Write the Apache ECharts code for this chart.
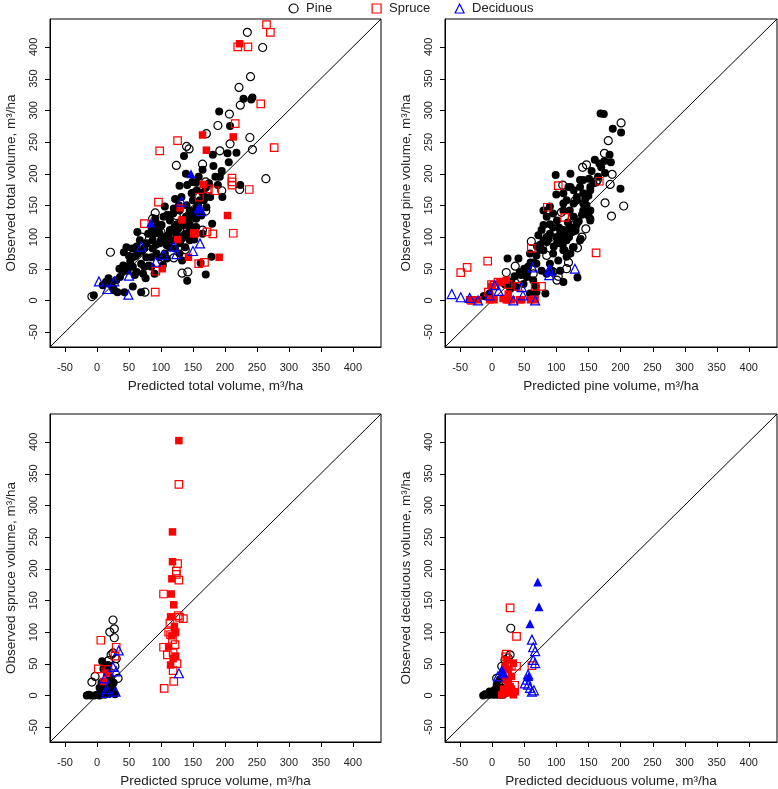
<!DOCTYPE html>
<html><head><meta charset="utf-8">
<script src="https://cdn.jsdelivr.net/npm/echarts@6/dist/echarts.min.js"></script>
<style>html,body{margin:0;padding:0;background:#fff}#c{width:778px;height:789px}</style>
</head><body><div id="c"></div>
<script>
// ---------- tick labels ----------
const tickValues = [-50,0,50,100,150,200,250,300,350,400];
const axisMin = -73.5, axisMax = 444;
const xTitles = ['Predicted total volume, m³/ha','Predicted pine volume, m³/ha','Predicted spruce volume, m³/ha','Predicted deciduous volume, m³/ha'];
const yTitles = ['Observed total volume, m³/ha','Observed pine volume, m³/ha','Observed spruce volume, m³/ha','Observed deciduous volume, m³/ha'];
const legendNames = ['Pine','Spruce','Deciduous'];

// ---------- Panel 1: total volume ----------
const p1PineOpen = [[235,423],[259,399],[240,353],[222,336],[224,308],[207,294],[189,276],[171,263],[208,247],[239,257],[243,238],[192,236],[140,243],[144,239],[124,213],[165,215],[264,192],[223,175],[195,173],[170,187],[91,138],[21,76],[70,100],[165,111],[138,80],[133,43],[142,45],[75,13],[-8,6],[120,67],[170,141],[124,134],[129,112],[87,129],[157,135],[118,100],[100,108]];
const p1PineFilled = [[229,318],[243,320],[241,317],[191,298],[208,275],[204,232],[218,233],[206,218],[181,230],[182,212],[195,204],[192,195],[224,182],[196,163],[180,121],[170,178],[189,182],[136,228],[139,200],[159,195],[165,206],[155,186],[149,187],[129,181],[141,182],[122,160],[106,148],[91,129],[104,132],[63,108],[46,84],[42,76],[55,82],[56,68],[32,13],[43,13],[56,22],[14,29],[-5,8],[69,13],[76,35],[74,53],[90,42],[103,56],[141,31],[170,41],[179,69],[162,59],[133,63],[152,96],[165,105],[132,97],[114,111],[98,105],[87,95],[74,83],[45,53],[41,55],[52,62],[69,58],[85,53],[93,74],[109,87],[119,95],[121,116],[136,124],[148,137],[155,145],[161,158],[167,158],[150,158],[145,142],[139,132],[129,142],[106,74],[114,84],[77,68],[85,68],[98,68],[109,66],[30,32],[20,26],[9,24],[27,16],[36,37],[56,53],[64,74],[62,45],[81,55],[72,42],[155,116],[171,147],[163,134],[169,163],[156,174],[148,169],[132,163],[119,137],[114,126],[101,119],[93,111],[85,116],[80,105],[67,95],[87,82],[98,90],[124,105],[139,105],[145,111],[138,84],[129,74],[122,82],[145,95],[155,129],[177,163],[97,114],[59,40],[48,47],[110,95],[125,120],[140,150],[150,170],[160,140],[100,95],[112,103],[118,110],[127,113],[135,118],[142,125],[150,132],[158,150],[165,170],[175,185],[185,195],[128,150],[120,145],[110,135],[95,120],[88,104],[78,90],[70,78],[60,70],[50,70],[40,45],[35,50],[25,20],[18,35],[62,85],[92,88],[105,100],[130,90],[135,100],[145,120],[150,100]];
const p1SpruceOpen = [[265,435],[271,423],[220,400],[236,400],[256,310],[216,279],[277,241],[126,252],[98,236],[211,193],[211,187],[211,182],[238,175],[184,173],[174,176],[160,163],[96,155],[74,121],[172,108],[181,105],[213,106],[152,106],[159,58],[168,60],[91,13],[92,46]];
const p1SpruceFilled = [[223,405],[165,261],[213,258],[171,237],[166,183],[130,146],[204,134],[153,105],[126,96],[191,68],[102,50],[143,68],[133,127]];
const p1DecidOpen = [[3,30],[16,18],[49,9],[50,39],[69,85],[92,61],[104,72],[124,73],[132,156],[150,78],[161,90],[163,141],[27,30],[120,85],[160,145]];
const p1DecidFilled = [[147,200],[84,122],[158,145]];

// ---------- Panel 2: pine volume ----------
const p2PineOpen = [[201,280],[181,252],[175,232],[141,210],[147,214],[187,199],[184,183],[162,187],[176,154],[205,149],[186,133],[146,113],[133,83],[116,50],[119,60],[103,38],[101,32],[36,54],[22,44],[61,93],[110,182],[129,157],[108,139],[107,111],[85,71],[64,42],[46,34],[164,190],[95,45],[125,130],[140,100]];
const p2PineFilled = [[169,295],[174,294],[188,271],[201,265],[183,230],[160,222],[185,218],[167,216],[155,204],[176,201],[200,176],[137,190],[137,179],[151,192],[119,179],[127,174],[132,163],[142,169],[153,174],[116,158],[127,153],[147,150],[150,134],[153,129],[142,142],[121,142],[111,142],[127,132],[132,121],[121,116],[138,97],[111,111],[116,95],[127,84],[113,79],[122,74],[99,198],[100,167],[111,153],[95,137],[80,119],[77,111],[72,103],[90,105],[85,92],[80,79],[69,71],[59,74],[101,90],[106,105],[111,95],[95,74],[90,58],[103,63],[116,69],[111,29],[133,36],[83,11],[68,22],[64,32],[54,37],[41,66],[24,66],[43,45],[49,26],[38,21],[28,18],[-13,7],[-4,11],[56,53],[69,58],[77,47],[85,42],[93,47],[106,47],[59,11],[69,13],[111,79],[121,116],[142,153],[153,179],[142,190],[122,200],[132,158],[153,142],[153,126],[137,95],[126,84],[80,142],[85,132],[90,148],[101,126],[111,169],[122,179],[96,85],[88,98],[104,115],[118,123],[130,110],[145,145],[75,88],[65,60],[50,50],[35,38],[100,100],[105,95],[110,88],[115,105],[120,100],[125,108],[130,115],[135,125],[140,135],[145,160],[150,165],[158,185],[165,195],[170,210],[175,220],[95,115],[90,120],[85,100],[80,95],[75,80],[70,85],[60,60],[55,45],[45,40],[30,30],[20,25]];
const p2SpruceOpen = [[-49,44],[-39,52],[-7,62],[86,147],[103,181],[167,188],[162,75],[61,82],[113,131],[-1,25],[40,22],[67,22],[77,22],[-32,0],[3,24],[9,29],[25,25],[-6,13]];
const p2SpruceFilled = [[-35,1],[-30,1],[-22,1],[-4,1],[3,1],[17,3],[22,1],[25,1],[30,1],[43,1],[46,1],[60,1],[64,2],[67,1],[15,29],[22,32],[12,29],[25,10],[-1,22]];
const p2DecidOpen = [[-63,10],[-49,5],[-35,4],[-22,0],[-4,8],[4,24],[46,21],[67,0],[89,49],[89,40],[129,50],[33,0],[63,52],[48,8],[90,47],[10,15]];
const p2DecidFilled = [];

// ---------- Panel 3: spruce volume ----------
const p3PineOpen = [[25,119],[20,100],[27,105],[27,91],[22,64],[33,27],[-3,30],[-8,21],[18,55],[28,46],[25,67],[30,58]];
const p3PineFilled = [[-16,0],[-10,0],[-4,0],[4,0],[12,1],[20,4],[9,9],[15,14],[7,20],[8,54],[17,48],[20,30],[4,12],[25,6],[22,19],[-13,1],[0,1],[8,3],[16,8],[24,12],[12,22],[18,38],[10,42],[26,20],[28,2]];
const p3SpruceOpen = [[128,333],[126,208],[124,196],[124,191],[128,182],[104,160],[127,126],[135,121],[129,123],[114,114],[115,96],[122,80],[104,76],[110,64],[119,67],[119,39],[120,22],[105,11],[6,87],[2,42],[30,76],[28,62],[17,41],[112,100],[118,88],[125,50]];
const p3SpruceFilled = [[128,402],[118,258],[118,211],[117,184],[116,160],[120,143],[115,124],[121,109],[123,100],[117,94],[112,77],[123,62],[119,58],[115,48],[122,99],[10,22],[15,35]];
const p3DecidOpen = [[34,71],[30,38],[29,6],[14,4],[128,35],[12,27],[15,10],[25,45]];
const p3DecidFilled = [];

// ---------- Panel 4: deciduous volume ----------
const p4PineOpen = [[29,106],[28,64],[20,56],[15,46],[7,27],[22,30],[25,59],[10,20]];
const p4PineFilled = [[-14,0],[-9,1],[-4,1],[2,1],[7,1],[12,1],[17,1],[-4,6],[4,9],[7,17],[12,25],[-11,2],[0,4],[10,8],[15,12],[20,3]];
const p4SpruceOpen = [[28,138],[38,93],[62,47],[38,46],[35,16],[21,61],[30,46],[22,65]];
const p4SpruceFilled = [[23,56],[25,41],[20,25],[28,14],[23,4],[33,1],[15,1],[30,30],[36,6],[20,46],[33,51],[25,20],[18,10],[30,10]];
const p4DecidOpen = [[62,88],[64,76],[67,70],[64,56],[67,51],[56,33],[54,25],[51,19],[56,17],[59,12],[62,6],[17,35],[9,30],[65,8]];
const p4DecidFilled = [[71,179],[73,140],[59,113],[57,30],[15,41],[18,36]];

const panels = [
  [p1PineOpen,p1PineFilled,p1SpruceOpen,p1SpruceFilled,p1DecidOpen,p1DecidFilled],
  [p2PineOpen,p2PineFilled,p2SpruceOpen,p2SpruceFilled,p2DecidOpen,p2DecidFilled],
  [p3PineOpen,p3PineFilled,p3SpruceOpen,p3SpruceFilled,p3DecidOpen,p3DecidFilled],
  [p4PineOpen,p4PineFilled,p4SpruceOpen,p4SpruceFilled,p4DecidOpen,p4DecidFilled]
];

// ---------- layout / style ----------
const FONT = 'Liberation Sans, Arial, sans-serif';
const TICK_LEN = 5;
const grids = [
  {left:50, top:19, width:331, height:328},
  {left:445, top:19, width:332, height:328},
  {left:50, top:414, width:331, height:328},
  {left:445, top:414, width:332, height:328}
];
const styles = [
  {name:'Pine', symbol:'circle', color:'#000000', filled:false, size:8},
  {name:'Pine f', symbol:'circle', color:'#000000', filled:true, size:8},
  {name:'Spruce', symbol:'rect', color:'#ff0000', filled:false, size:7.5},
  {name:'Spruce f', symbol:'rect', color:'#ff0000', filled:true, size:7.5},
  {name:'Deciduous', symbol:'triangle', color:'#0000ff', filled:false, size:9},
  {name:'Deciduous f', symbol:'triangle', color:'#0000ff', filled:true, size:9}
];
const legendLayout = [
  {left:288.5, icon:'circle', color:'#000'},
  {left:371.5, icon:'rect', color:'#ff0000'},
  {left:454.5, icon:'triangle', color:'#0000ff'}
];

const option = {
  animation:false,
  backgroundColor:'#fff',
  grid: grids.map(g => Object.assign({show:true, borderColor:'#000', borderWidth:1, backgroundColor:'transparent'}, g)),
  xAxis: grids.map((g,i) => ({
    gridIndex:i, type:'value', min:axisMin, max:axisMax,
    axisLine:{show:true, onZero:false, lineStyle:{color:'#000', width:1}}, splitLine:{show:false},
    axisTick:{show:false},
    axisLabel:{customValues:tickValues, margin:15, fontSize:11, color:'#222', fontFamily:FONT},
    name:xTitles[i], nameLocation:'middle', nameGap:32,
    nameTextStyle:{fontSize:13.5, color:'#222', fontFamily:FONT}
  })),
  yAxis: grids.map((g,i) => ({
    gridIndex:i, type:'value', min:axisMin, max:axisMax,
    axisLine:{show:true, onZero:false, lineStyle:{color:'#000', width:1}}, splitLine:{show:false},
    axisTick:{show:false},
    axisLabel:{customValues:tickValues, rotate:90, margin:11, fontSize:11, color:'#222', fontFamily:FONT},
    name:yTitles[i], nameLocation:'middle', nameGap:32,
    nameTextStyle:{fontSize:13.5, color:'#222', fontFamily:FONT}
  })),
  legend: legendNames.map((n,k) => ({
    left:legendLayout[k].left, top:2, padding:0, itemWidth:9, itemHeight:9, selectedMode:false,
    textStyle:{fontSize:13, color:'#222', fontFamily:FONT, padding:[0,0,0,3]},
    data:[{name:n, icon:legendLayout[k].icon,
      itemStyle:{color:'transparent', borderColor:legendLayout[k].color, borderWidth:1.2}}]
  })),
  series:[]
};

// tick marks drawn through the axes' own scales (outside the frame)
function tickRenderer(params, api) {
  const v = api.value(0);
  const px = api.coord([v, axisMin]);   // bottom edge at x = v
  const py = api.coord([axisMin, v]);   // left edge at y = v
  const x = Math.round(px[0]) + 0.5, yb = Math.round(px[1]);
  const y = Math.round(py[1]) + 0.5, xl = Math.round(py[0]);
  return {
    type:'group',
    children:[
      {type:'line', shape:{x1:x, y1:yb, x2:x, y2:yb + TICK_LEN}, style:{stroke:'#000', lineWidth:1}},
      {type:'line', shape:{x1:xl - TICK_LEN, y1:y, x2:xl, y2:y}, style:{stroke:'#000', lineWidth:1}}
    ]
  };
}

panels.forEach((sets,i) => {
  option.series.push({
    type:'line', xAxisIndex:i, yAxisIndex:i, silent:true, symbol:'none',
    data:[[axisMin,axisMin],[axisMax,axisMax]],
    lineStyle:{color:'#000', width:1}, z:1
  });
  option.series.push({
    type:'custom', xAxisIndex:i, yAxisIndex:i, silent:true, clip:false, z:50,
    data: tickValues.map(v => [v, v]),
    renderItem: tickRenderer
  });
  sets.forEach((d,k) => {
    const s = styles[k];
    option.series.push({
      type:'scatter', name:s.name, xAxisIndex:i, yAxisIndex:i,
      symbol:s.symbol, symbolSize:s.size, data:d, z:2+k,
      itemStyle: s.filled ? {color:s.color, opacity:1} :
        {color:'transparent', borderColor:s.color, borderWidth:1.2, opacity:1}
    });
  });
});

const chart = echarts.init(document.getElementById('c'), null, {renderer:'canvas'});
chart.setOption(option);
</script>
</body></html>
